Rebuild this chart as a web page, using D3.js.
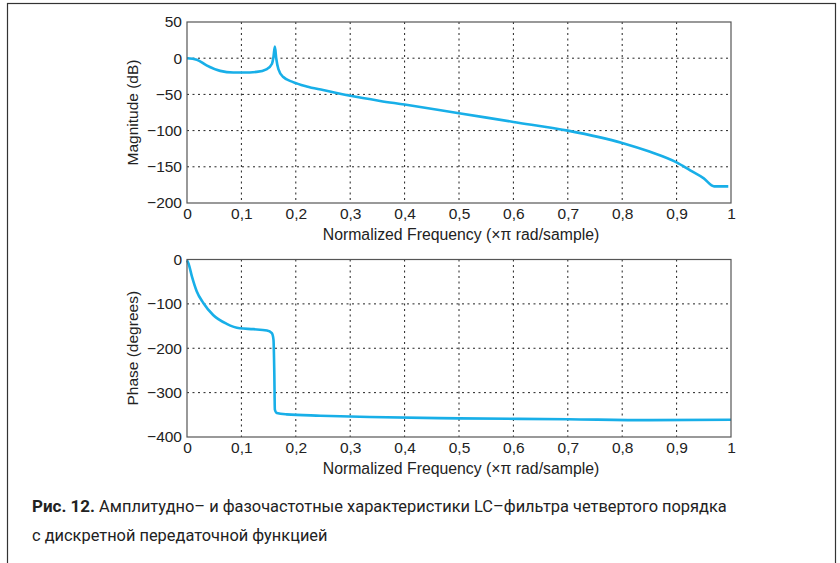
<!DOCTYPE html>
<html>
<head>
<meta charset="utf-8">
<script src="https://cdn.jsdelivr.net/npm/d3@7"></script>
<style>
  body { margin: 0; background: #fff; }
  svg { display: block; }
  .tick text { font-family: "Liberation Sans", Arial, sans-serif; }
</style>
</head>
<body>
<svg width="840" height="563"></svg>
<script>
const svg = d3.select("svg")

// magnitude response
const magFreq = [0, 0.018, 0.036, 0.061, 0.085, 0.104, 0.128, 0.147, 0.156, 0.159, 0.1615, 0.164, 0.168, 0.177, 0.195, 0.22, 0.25, 0.3, 0.355, 0.4, 0.5, 0.6, 0.7, 0.8, 0.85, 0.9, 0.925, 0.95, 0.969, 0.995]
const magDb = [0, -2, -10, -17.5, -19.7, -19.7, -18.9, -15, -8, 2, 16, 0, -15, -26, -33, -39, -44, -52, -59, -64, -76, -88, -100, -117, -129, -144, -155, -166, -177, -177]

// phase response
const phFreq = [0, 0.003, 0.009, 0.018, 0.03, 0.048, 0.073, 0.097, 0.122, 0.147, 0.156, 0.159, 0.1605, 0.1615, 0.165, 0.183, 0.245, 0.336, 0.5, 0.7, 0.85, 1]
const phDeg = [-2, -10, -38, -72, -98, -125, -145, -155, -157, -160, -166, -181, -256, -338, -346, -349, -352, -355, -358, -360, -362, -361]

const xTicks = [0, 0.1, 0.2, 0.3, 0.4, 0.5, 0.6, 0.7, 0.8, 0.9, 1]
const magTicks = [50, 0, -50, -100, -150, -200]
const phTicks = [0, -100, -200, -300, -400]

const lineColor = "#18afe8"
const fmtX = d => d === 0 || d === 1 ? String(d) : d3.format(".1f")(d).replace(".", ",")
const fmtY = d => d < 0 ? "\u2212" + Math.abs(d) : String(d)

// frame
svg.append("rect")
    .attr("x", 7.5).attr("y", 3.5)
    .attr("width", 828).attr("height", 600)
    .attr("fill", "none")
    .attr("stroke", "#333")
    .attr("stroke-width", 1.2)

function panel(top, bottom, yDomain, yTicks, xs, ys, yLabel) {
    const x = d3.scaleLinear().domain([0, 1]).range([187, 731])
    const y = d3.scaleLinear().domain(yDomain).range([bottom, top])
    const g = svg.append("g")

    // dotted grid
    g.selectAll("line.vg")
        .data(xTicks.slice(1, -1))
        .enter().append("line")
        .attr("x1", d => x(d)).attr("x2", d => x(d))
        .attr("y1", top).attr("y2", bottom)
        .attr("stroke", "#222").attr("stroke-width", 1)
        .attr("stroke-dasharray", "2,3.5")
    g.selectAll("line.hg")
        .data(yTicks.filter(t => t !== yDomain[0] && t !== yDomain[1]))
        .enter().append("line")
        .attr("x1", 187).attr("x2", 731)
        .attr("y1", d => y(d)).attr("y2", d => y(d))
        .attr("stroke", "#222").attr("stroke-width", 1)
        .attr("stroke-dasharray", "2,3.5")

    const line = d3.line()
        .x(d => x(d[0]))
        .y(d => y(d[1]))
        .curve(d3.curveMonotoneX)
    g.append("path")
        .datum(xs.map((v, i) => [v, ys[i]]))
        .attr("d", line)
        .attr("fill", "none")
        .attr("stroke", lineColor)
        .attr("stroke-width", 2.6)
        .attr("stroke-linejoin", "round")

    // box
    g.append("rect")
        .attr("x", 187).attr("y", top)
        .attr("width", 544).attr("height", bottom - top)
        .attr("fill", "none").attr("stroke", "#555").attr("stroke-width", 1.2)

    const xAxis = g.append("g")
        .attr("transform", `translate(0,${bottom})`)
        .call(d3.axisBottom(x).tickValues(xTicks).tickFormat(fmtX).tickSize(0).tickPadding(5))
    const yAxis = g.append("g")
        .attr("transform", "translate(187,0)")
        .call(d3.axisLeft(y).tickValues(yTicks).tickFormat(fmtY).tickSize(0).tickPadding(5))
    xAxis.select(".domain").remove()
    yAxis.select(".domain").remove()
    svg.selectAll(".tick text").attr("font-size", 15.5).attr("fill", "#222")

    g.append("text")
        .attr("x", 461).attr("y", bottom + 37)
        .attr("text-anchor", "middle")
        .attr("font-family", "Liberation Sans, Arial, sans-serif")
        .attr("font-size", 15.8).attr("fill", "#222")
        .text("Normalized Frequency (\u00d7\u03c0 rad/sample)")
    g.append("text")
        .attr("transform", `translate(138,${(top + bottom) / 2}) rotate(-90)`)
        .attr("text-anchor", "middle")
        .attr("font-family", "Liberation Sans, Arial, sans-serif")
        .attr("font-size", 15.5).attr("fill", "#222")
        .text(yLabel)
}

panel(22, 203, [-200, 50], magTicks, magFreq, magDb, "Magnitude (dB)")
panel(259.5, 437, [-400, 0], phTicks, phFreq, phDeg, "Phase (degrees)")

// caption
const cap = svg.append("text")
    .attr("font-family", "Liberation Sans Narrow, Roboto, sans-serif")
    .attr("font-size", 16.4).attr("fill", "#222")
cap.append("tspan").attr("x", 32).attr("y", 512)
    .attr("font-weight", "bold").attr("font-size", 17).text("Рис. 12.")
cap.append("tspan").text(" Амплитудно\u2013 и фазочастотные характеристики LC\u2013фильтра четвертого порядка")
cap.append("tspan").attr("x", 32).attr("y", 541)
    .text("с дискретной передаточной функцией")
</script>
</body>
</html>
